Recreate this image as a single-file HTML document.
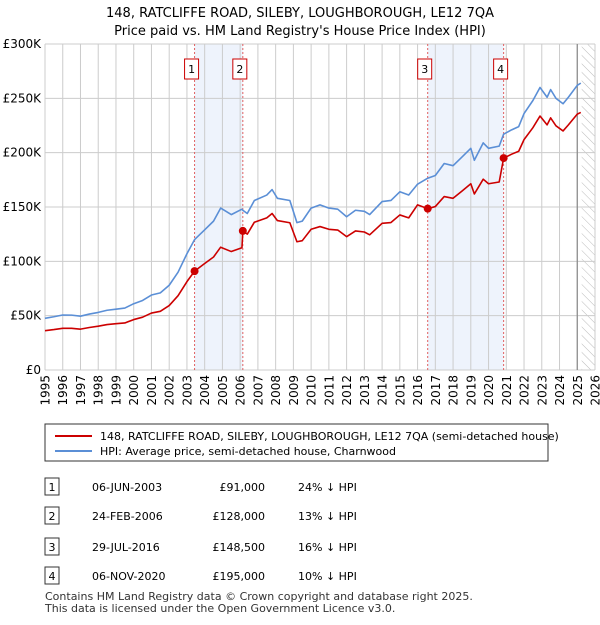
<!DOCTYPE html>
<html><head><meta charset="utf-8"><style>
body{margin:0;background:#fff;font-family:"Liberation Sans","DejaVu Sans",sans-serif;}
svg text{font-family:"DejaVu Sans","Liberation Sans",sans-serif;}
</style></head><body>
<svg id="chart" width="600" height="620" xmlns="http://www.w3.org/2000/svg">
<defs><pattern id="hatch" width="6" height="6" patternUnits="userSpaceOnUse" patternTransform="rotate(-45)"><line x1="0" y1="0" x2="0" y2="6" stroke="#bbb" stroke-width="1"/></pattern></defs>
<text x="300" y="17" text-anchor="middle" font-size="13">148, RATCLIFFE ROAD, SILEBY, LOUGHBOROUGH, LE12 7QA</text>
<text x="300" y="35" text-anchor="middle" font-size="13">Price paid vs. HM Land Registry's House Price Index (HPI)</text>
<g id="plot"></g>
<rect x="45" y="424" width="503" height="37" fill="#fff" stroke="#333"/>
<line x1="55" y1="436" x2="92" y2="436" stroke="#cc0000" stroke-width="2"/>
<text x="100" y="440" font-size="11">148, RATCLIFFE ROAD, SILEBY, LOUGHBOROUGH, LE12 7QA (semi-detached house)</text>
<line x1="55" y1="451" x2="92" y2="451" stroke="#5b8fd6" stroke-width="2"/>
<text x="100" y="455" font-size="11">HPI: Average price, semi-detached house, Charnwood</text>
<g id="table" font-size="11"></g>
<text x="45" y="600" font-size="11" fill="#333">Contains HM Land Registry data © Crown copyright and database right 2025.</text>
<text x="45" y="612" font-size="11" fill="#333">This data is licensed under the Open Government Licence v3.0.</text>
</svg>
<script>
const dates=[1995.0,1995.5,1996.0,1996.5,1997.0,1997.5,1998.0,1998.5,1999.0,1999.5,2000.0,2000.5,2001.0,2001.5,2002.0,2002.5,2003.0,2003.43,2004.0,2004.5,2004.9,2005.5,2006.1,2006.15,2006.4,2006.8,2007.5,2007.8,2008.1,2008.8,2009.2,2009.5,2010.0,2010.5,2011.0,2011.5,2012.0,2012.5,2013.0,2013.3,2014.0,2014.5,2015.0,2015.5,2016.0,2016.57,2017.0,2017.5,2018.0,2018.5,2019.0,2019.2,2019.7,2020.0,2020.6,2020.85,2021.3,2021.7,2022.0,2022.5,2022.9,2023.3,2023.5,2023.8,2024.2,2024.5,2025.0,2025.2];
const hpi=[47.6,49,50.6,50.5,49.5,51.5,53,55,56,57,61,64,69,71,78,90,107,120,129,137,149,143,148,147,144,156,161,166,158,156,135.6,137,149,152,149,148,141,147,146,143,155,156,164,161,171,176.5,179,190,188,196,204,193,209,204,206,217,221,224,236,248,260,251,258,250,245,251,262,264];
const price=[36.2,37.2,38.4,38.4,37.6,39.1,40.3,41.8,42.6,43.3,46.4,48.6,52.4,54,59.3,68.4,81.3,91,98,104,113,109,112.5,128,125,136,140,144,137.5,135.5,118,119,129.5,132,129.5,128.8,122.7,128,127,124.4,135,135.7,142.7,140,152,148.5,150.4,159.6,158,164.6,171.4,162,175.6,171.4,173,195,198.6,201.3,212,223,233.7,225.6,232,224.7,220,225.6,235.5,237];
const saleLabels=["1","2","3","4"];
const saleDates=[2003.43,2006.15,2016.57,2020.85];
const salePrices=[91,128,148.5,195];
const saleDateText=["06-JUN-2003","24-FEB-2006","29-JUL-2016","06-NOV-2020"];
const salePriceText=["£91,000","£128,000","£148,500","£195,000"];
const saleHpiText=["24% ↓ HPI","13% ↓ HPI","16% ↓ HPI","10% ↓ HPI"];
const yTicks=[0,50,100,150,200,250,300];
const yTickLabels=["£0","£50K","£100K","£150K","£200K","£250K","£300K"];
const NS="http://www.w3.org/2000/svg";
const X0=45,X1=595,Y0=370,Y1=44;
const x=d=>X0+(d-1995)/31*(X1-X0);
const y=v=>Y0-v/300*(Y0-Y1);
const plot=document.getElementById('plot');
function mk(tag,attrs,parent){const e=document.createElementNS(NS,tag);for(const k in attrs)e.setAttribute(k,attrs[k]);(parent||plot).appendChild(e);return e;}
for(let i=0;i<4;i+=2){const r=mk('rect',{x:x(saleDates[i]),y:Y1,width:x(saleDates[i+1])-x(saleDates[i]),height:Y0-Y1,fill:'#eef3fc'});

}
const h=mk('rect',{x:x(2025.25),y:Y1,width:X1-x(2025.25),height:Y0-Y1,fill:'url(#hatch)'});


for(let yr=1995;yr<=2026;yr++){const l=mk('line',{x1:x(yr),x2:x(yr),y1:Y1,y2:Y0,stroke:'#cccccc'});


const t=mk('text',{x:0,y:0,'text-anchor':'end','font-size':'12',transform:'translate('+(x(yr)+4.5)+','+(Y0+5)+') rotate(-90)'});t.textContent=yr;

}
yTicks.forEach((v,i)=>{const l=mk('line',{x1:X0,x2:X1,y1:y(v),y2:y(v),stroke:'#cccccc'});


const t=mk('text',{x:X0-4,y:y(v)+4,'text-anchor':'end','font-size':'12'});t.textContent=yTickLabels[i];

});
const vl=mk('line',{x1:x(2025.0),x2:x(2025.0),y1:Y1,y2:Y0,stroke:'#888','stroke-width':1.2});


saleDates.forEach((d,i)=>{const l=mk('line',{x1:x(d),x2:x(d),y1:Y1,y2:Y0,stroke:'#e06060','stroke-dasharray':'2,2'});


const b=mk('rect',{x:x(d)-10,y:59,width:14,height:20,fill:'#fff',stroke:'#cc0000'});


const t=mk('text',{x:x(d)-3,y:73,'text-anchor':'middle','font-size':'11'});t.textContent=saleLabels[i];

});
function line(arr,color,name){const p=mk('polyline',{points:dates.map((d,i)=>x(d)+','+y(arr[i])).join(' '),fill:'none',stroke:color,'stroke-width':1.6,'stroke-linejoin':'round'});

}
line(hpi,'#5b8fd6','hpi-line');
line(price,'#cc0000','price-paid-line');
saleDates.forEach((d,i)=>{const c=mk('circle',{cx:x(d),cy:y(salePrices[i]),r:4,fill:'#cc0000'});

});
const tb=document.getElementById('table');
const rowY=[487,516,547,576];
saleLabels.forEach((s,i)=>{const yy=rowY[i];
const b=mk('rect',{x:45,y:yy-9,width:14,height:17,fill:'#fff',stroke:'#333'},tb);


const cells=[[52,s,'middle'],[92,saleDateText[i],'start'],[265,salePriceText[i],'end'],[298,saleHpiText[i],'start']];
cells.forEach(c=>{const t=mk('text',{x:c[0],y:yy+4,'text-anchor':c[2]},tb);t.textContent=c[1];

});});
</script>
</body></html>
